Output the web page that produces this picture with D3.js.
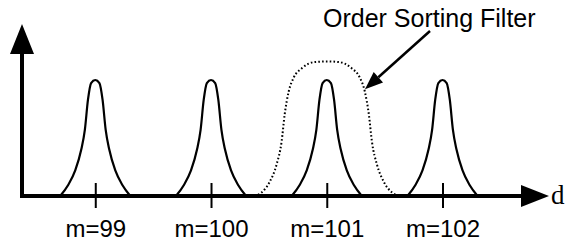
<!DOCTYPE html>
<html><head><meta charset="utf-8">
<script src="https://cdn.jsdelivr.net/npm/d3@7"></script>
<style>html,body{margin:0;padding:0;background:#fff;}svg{display:block;}</style>
</head><body>
<svg id="c" width="569" height="241"></svg>
<script>
// --- data ---
const orders = [99, 100, 101, 102];
const orderLabels = ["m=99", "m=100", "m=101", "m=102"];
// single transmission peak profile: offset from order (order units) and normalized height
const peakOffsets = [-0.303, -0.234, -0.173, -0.121, -0.09, -0.063, -0.036, 0, 0.036, 0.063, 0.09, 0.121, 0.173, 0.234, 0.303];
const peakHeights = [0, 0.095, 0.22, 0.40, 0.57, 0.83, 0.974, 1, 0.974, 0.83, 0.57, 0.40, 0.22, 0.095, 0];
// order sorting filter profile, centered on m=101
const filterCenter = 101;
const filterOffsets = [-0.624, -0.564, -0.494, -0.434, -0.39, -0.364, -0.329, -0.286, -0.217, -0.104, 0, 0.104, 0.217, 0.286, 0.329, 0.364, 0.39, 0.434, 0.494, 0.564, 0.624];
const filterHeights = [0, 0.03, 0.12, 0.27, 0.47, 0.70, 0.90, 1.02, 1.10, 1.155, 1.16, 1.155, 1.10, 1.02, 0.90, 0.70, 0.47, 0.27, 0.12, 0.03, 0];
const filterLabel = "Order Sorting Filter";
const axisLabel = "d";

// --- scales ---
const svg = d3.select("#c");
const x = d3.scaleLinear().domain([98.367, 102.92]).range([22, 549]);
const y = d3.scaleLinear().domain([0, 1]).range([196, 80]);
const yTop = 1.483;

const line = d3.line().x(d => x(d[0])).y(d => y(d[1])).curve(d3.curveMonotoneX);

// filter (dotted)
const fpts = filterOffsets.map((o, i) => [filterCenter + o, filterHeights[i]]);
svg.append("path").attr("d", line(fpts)).attr("fill", "none")
  .attr("stroke", "#000").attr("stroke-width", 2).attr("stroke-dasharray", "1.6,2.2");

// peaks
orders.forEach(m => {
  const pts = peakOffsets.map((o, i) => [m + o, peakHeights[i]]);
  svg.append("path").attr("d", line(pts)).attr("fill", "none")
    .attr("stroke", "#000").attr("stroke-width", 2.2).attr("stroke-linejoin", "round");
});

// x axis line + arrow
const x0 = x.range()[0], x1 = x.range()[1];
svg.append("line").attr("x1", x0 - 2).attr("x2", x1 - 20).attr("y1", y(0)).attr("y2", y(0))
  .attr("stroke", "#000").attr("stroke-width", 4);
svg.append("path").attr("d", `M${x1},${y(0)} L${x1 - 28},${y(0) - 11} L${x1 - 28},${y(0) + 11} Z`).attr("fill", "#000");
// y axis line + arrow
svg.append("line").attr("x1", x0).attr("x2", x0).attr("y1", y(0) + 2).attr("y2", y(yTop) + 25)
  .attr("stroke", "#000").attr("stroke-width", 4);
svg.append("path").attr("d", `M${x0},${y(yTop)} L${x0 - 12},${y(yTop) + 30} L${x0 + 12},${y(yTop) + 30} Z`).attr("fill", "#000");

// ticks via d3 axis
const axis = d3.axisBottom(x).tickValues(orders).tickFormat((d, i) => orderLabels[i]).tickSize(12).tickPadding(12);
const g = svg.append("g").attr("transform", `translate(0,${y(0)})`).call(axis);
g.select(".domain").remove();
g.selectAll(".tick line").attr("y1", -13).attr("y2", 12).attr("stroke", "#000").attr("stroke-width", 2);
g.selectAll(".tick text").attr("font-family", "Liberation Sans, Arial, sans-serif").attr("font-size", 24).attr("fill", "#000");

// axis label
svg.append("text").attr("x", x1 + 2).attr("y", y(0) + 8).attr("font-family", "Liberation Serif, serif")
  .attr("font-size", 27).text(axisLabel);

// filter label + pointer arrow
svg.append("text").attr("x", 323).attr("y", 27).attr("font-family", "Liberation Sans, Arial, sans-serif")
  .attr("font-size", 25).text(filterLabel);
const ax1 = 430, ay1 = 31, ax2 = x(filterCenter + 0.33), ay2 = y(0.92);
const ang = Math.atan2(ay2 - ay1, ax2 - ax1);
const hl = 18, hw = 7;
const bx = ax2 - hl * Math.cos(ang), by = ay2 - hl * Math.sin(ang);
svg.append("line").attr("x1", ax1).attr("y1", ay1).attr("x2", bx).attr("y2", by)
  .attr("stroke", "#000").attr("stroke-width", 2.5);
svg.append("path").attr("d", `M${ax2},${ay2} L${bx + hw * Math.sin(ang)},${by - hw * Math.cos(ang)} L${bx - hw * Math.sin(ang)},${by + hw * Math.cos(ang)} Z`).attr("fill", "#000");
</script>
</body></html>
